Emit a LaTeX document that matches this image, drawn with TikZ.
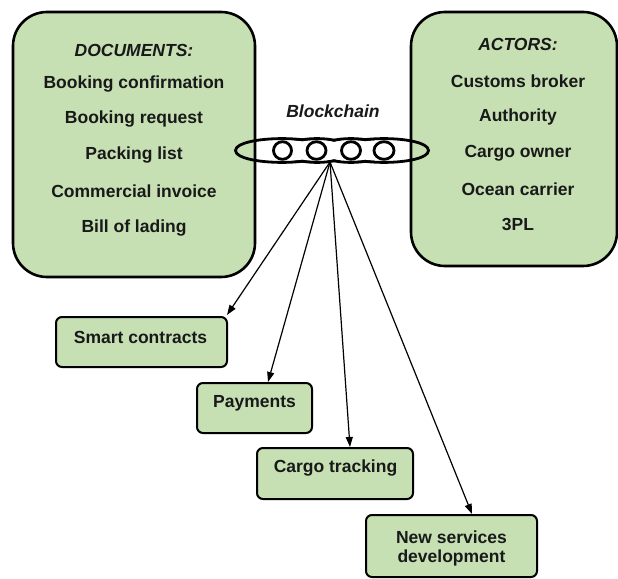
\documentclass[tikz,border=0pt]{standalone}
\usepackage{fontspec}
\setmainfont{Liberation Sans}
\usetikzlibrary{arrows.meta}
\definecolor{boxgreen}{RGB}{198,224,180}
\begin{document}
\begin{tikzpicture}[x=1pt,y=-1pt,
  bigbox/.style={draw=black, line width=2.6pt, fill=boxgreen, rounded corners=34pt},
  smallbox/.style={draw=black, line width=2pt, fill=boxgreen, rounded corners=6pt, inner sep=0pt},
  txt/.style={font=\fontsize{17.5}{21}\selectfont\bfseries, text=black!90, inner sep=0pt},
  head/.style={txt, font=\fontsize{17.5}{21}\selectfont\bfseries\itshape},
  link/.style={draw=black, line width=2.8pt},
  flatlink/.style={draw=black, line width=5.6pt},
  arr/.style={draw=black, line width=1.2pt, -{Triangle[length=10pt,width=7pt]}}]
\useasboundingbox (0,0) rectangle (618,578);
\fill[white] (0,0) rectangle (618,578);

% big boxes
\draw[bigbox] (13,12) rectangle (255,277);
\draw[bigbox] (411,12) rectangle (617,266);

% left box text
\node[head] (dochead) at (134,50) {DOCUMENTS:};
\node[txt] (d1) at (134,84) {Booking confirmation};
\node[txt] (d2) at (134,119) {Booking request};
\node[txt] (d3) at (134,155) {Packing list};
\node[txt] (d4) at (134,191) {Commercial invoice};
\node[txt] (d5) at (134,228) {Bill of lading};

% right box text
\node[head] (acthead) at (518,44) {ACTORS:};
\node[txt] (a1) at (518,81) {Customs broker};
\node[txt] (a2) at (518,117) {Authority};
\node[txt] (a3) at (518,153) {Cargo owner};
\node[txt] (a4) at (518,189) {Ocean carrier};
\node[txt] (a5) at (518,224) {3PL};

% blockchain label
\node[head] (bclabel) at (333,111) {Blockchain};

% chain: outline of the flat links (only the outer contour is drawn)
\begin{scope}[even odd rule]
  \clip (0,0) rectangle (618,578) (282,150.5) ellipse [x radius=45, y radius=10.5];
  \begin{scope}[even odd rule]
    \clip (0,0) rectangle (618,578) (317,150.5) ellipse [x radius=32, y radius=10.5];
    \begin{scope}[even odd rule]
      \clip (0,0) rectangle (618,578) (351,150.5) ellipse [x radius=32, y radius=10.5];
      \begin{scope}[even odd rule]
        \clip (0,0) rectangle (618,578) (384,150.5) ellipse [x radius=43, y radius=10.5];
        \draw[flatlink] (282,150.5) ellipse [x radius=45, y radius=10.5];
        \draw[flatlink] (317,150.5) ellipse [x radius=32, y radius=10.5];
        \draw[flatlink] (351,150.5) ellipse [x radius=32, y radius=10.5];
        \draw[flatlink] (384,150.5) ellipse [x radius=43, y radius=10.5];
      \end{scope}
    \end{scope}
  \end{scope}
\end{scope}
% end-on links
\draw[link] (282.5,150.5) ellipse [x radius=9, y radius=8.8];
\draw[link] (316.5,150.5) ellipse [x radius=9.5, y radius=8.8];
\draw[link] (351,150.5) ellipse [x radius=9.5, y radius=8.8];
\draw[link] (384,150.5) ellipse [x radius=10, y radius=8.8];
\coordinate (hub) at (330,162);

% small boxes
\node[smallbox, minimum width=171pt, minimum height=50pt] (sc) at (141.5,342) {};
\node[txt] (sctxt) at (140.5,337) {Smart contracts};
\node[smallbox, minimum width=115pt, minimum height=50pt] (pay) at (254.5,408) {};
\node[txt] (paytxt) at (254.5,403) {Payments};
\node[smallbox, minimum width=156pt, minimum height=51pt] (cargo) at (335,473.5) {};
\node[txt] (cargotxt) at (335.5,468) {Cargo tracking};
\node[smallbox, minimum width=171pt, minimum height=62pt] (ns) at (451.5,546) {};
\node[txt] (nstxt1) at (451.5,537) {New services};
\node[txt] (nstxt2) at (451.5,558) {development};

% arrows
\draw[arr] (hub) -- ([xshift=-1pt,yshift=1pt]sc.north east);
\draw[arr] (hub) -- ([xshift=13.5pt]pay.north);
\draw[arr] (hub) -- ([xshift=15pt]cargo.north);
\draw[arr] (hub) -- ([xshift=20.5pt]ns.north);
\end{tikzpicture}
\end{document}
